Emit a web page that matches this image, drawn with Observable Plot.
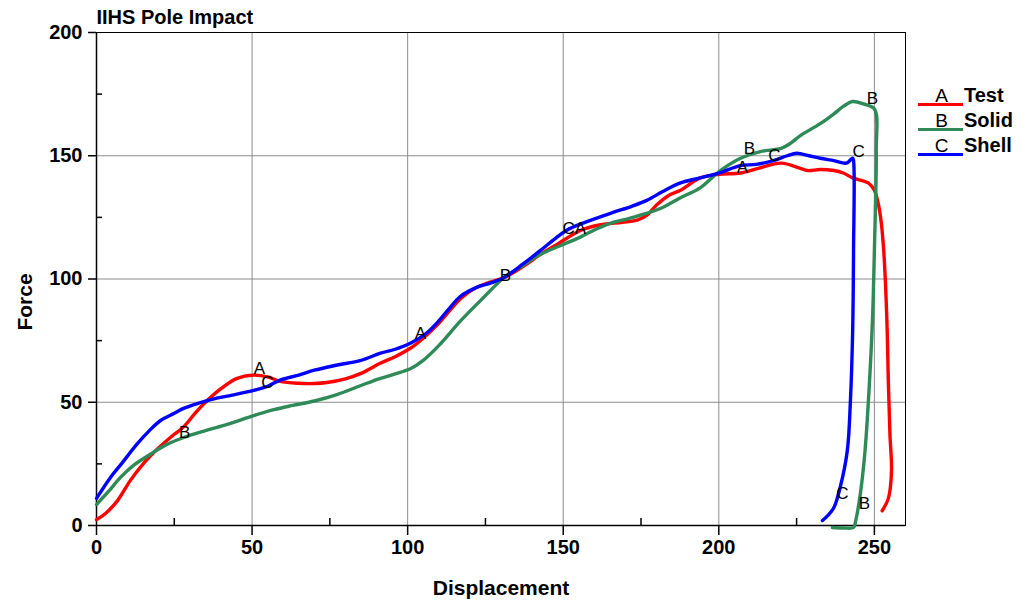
<!DOCTYPE html>
<html>
<head>
<meta charset="utf-8">
<script src="https://cdn.jsdelivr.net/npm/d3@7"></script>
<script src="https://cdn.jsdelivr.net/npm/@observablehq/plot@0.6"></script>
<style>
  html, body { margin: 0; padding: 0; background: #fff; }
  #wrap { position: relative; width: 1031px; height: 602px; font-family: "Liberation Sans", Arial, sans-serif; }
  .legline { position: absolute; height: 3px; width: 45px; }
  .legletter { position: absolute; font-size: 19px; width: 45px; text-align: center; line-height: 19px; }
  .legname { position: absolute; font-size: 20px; font-weight: bold; line-height: 20px; }
</style>
</head>
<body>
<div id="wrap"></div>
<script>
// ---- Data ----
const seriesNames = ["Test", "Solid", "Shell"];
const seriesLetters = ["A", "B", "C"];
const seriesColors = ["#ff0000", "#2e8b57", "#0000ff"];

const testPts = [
  [0,2.4],[3,5],[6.7,10],[10.9,18.3],[15,25],[20,31.5],[25,37],[28,40],[32,46],[35.6,50.7],
  [40,55.5],[45,59.6],[50.5,61],[55,60.3],[59,58.5],[65,57.7],[70,57.6],[74,58],[80,59.5],
  [85,61.7],[91,65.7],[96,68.5],[101,72],[105,76],[110,82],[117,92],[122,96.5],[126,98.5],
  [131,100.6],[137,105],[142.7,110],[148,114],[155.5,119.7],[162,122],[169,123],[174,124],
  [177,126],[180,130],[184,134],[187.7,136],[194,141],[200,142.5],[207,143],[213,145],
  [220,147],[226,145],[228.5,144],[232.6,144.4],[237,144],[240,143],[243,141],[248,139],
  [250,136],[251,132],[252,125],[253,111.5],[254,84],[254.5,57.6],[255,37],[255.5,22],
  [254.5,11],[252.5,6]
];
const solidPts = [
  [0,8.5],[4,14],[7.7,19.5],[12,24.5],[17.4,29],[22,32.5],[28,35.7],[35,38.5],[42,41],
  [50.5,44.6],[57,47],[63,48.7],[70,50.5],[77,53],[85,56.8],[91,59.6],[96,61.5],[101,63.7],
  [105,67],[110,73],[117,83],[124,92],[131,100.6],[137,105.5],[142.7,110],[149,113.5],
  [155.5,117],[161,120.5],[166,123],[171,124.5],[175,126],[181,128.5],[187.7,133],[194,137],
  [200.5,144],[207,149],[213.4,151.7],[220,153],[223,155],[226,158],[232.6,163],[237,167],
  [240,170],[243,172],[246.5,171],[250,169],[250.6,152],[250,111.5],[249.4,84],[248.4,57.6],
  [247,30.4],[245.5,13],[244,2],[243.3,-0.8],[240,-1],[236.5,-0.8]
];
const shellPts = [
  [0,11],[4.5,19.5],[8,25],[13,33],[17,38.5],[20.6,42.6],[25,45.5],[28,47.5],[35.6,50.7],
  [42,52.5],[50.5,54.8],[55,56.5],[59,59],[65,61],[70,63],[77,65],[85,67],[91,69.8],[96,71.5],
  [101,74],[106,78],[110,83],[113,87.5],[117,93],[122,96.5],[127,98.5],[131,100.6],[137,106],
  [142.7,111.6],[147,116],[151,119.7],[157,123],[166,127],[172,129.5],[177,132],[182,135.5],
  [187.7,139],[194,141],[200,143],[207,146],[212,146.5],[217.5,148],[222,150],[225,151],
  [229,150],[232.6,149],[237,148],[241,147],[243,149],[243.3,148],[243.3,111.5],[243,78],
  [242.3,50.7],[241.3,30.4],[239,15.4],[237,7.3],[235,4],[233.3,2]
];

// curve marker letters [x, y, letter]
const markerLabels = [
  [52.4,63.7,"A"],[104.1,77.9,"A"],[155.5,120.5,"A"],[207.6,145.2,"A"],
  [28.3,37.7,"B"],[131.4,101.4,"B"],[209.8,153,"B"],[249.4,173.2,"B"],[246.8,8.9,"B"],
  [54.9,58,"C"],[151.7,120.5,"C"],[217.9,150.1,"C"],[244.9,151.7,"C"],[239.7,13,"C"]
];

const xMajor = [0,50,100,150,200,250];
const xMinor = [25,75,125,175,225];
const yMajor = [0,50,100,150,200];
const yMinor = [25,75,125,175];
const titleText = "IIHS Pole Impact";
const xLabel = "Displacement";
const yLabel = "Force";

// ---- Build table ----
const rows = [];
[testPts, solidPts, shellPts].forEach((pts, i) => {
  pts.forEach(([x, y]) => rows.push({series: seriesNames[i], x, y}));
});
const labels = markerLabels.map(([x, y, t]) => ({x, y, t}));

const FONT = "Liberation Sans, Arial, sans-serif";

const chart = Plot.plot({
  width: 1031,
  height: 602,
  marginLeft: 96,
  marginRight: 126,
  marginTop: 32,
  marginBottom: 77,
  style: {fontFamily: FONT, background: "#fff", overflow: "visible"},
  x: {domain: [0, 260]},
  y: {domain: [0, 200]},
  color: {domain: seriesNames, range: seriesColors},
  marks: [
    Plot.gridX(xMajor, {stroke: "#8c8c8c", strokeOpacity: 1, strokeWidth: 1}),
    Plot.gridY(yMajor, {stroke: "#8c8c8c", strokeOpacity: 1, strokeWidth: 1}),
    Plot.frame({stroke: "#000", strokeWidth: 1}),
    Plot.ruleX([0], {stroke: "#000", strokeWidth: 1.5}),
    Plot.ruleY([0], {stroke: "#000", strokeWidth: 1.5}),
    Plot.axisX({ticks: xMajor, tickSize: 10, tickPadding: 4, fontSize: 20, fontWeight: "bold", label: null, stroke: "#000", strokeWidth: 1.5, fill: "#000"}),
    Plot.axisX({ticks: xMinor, tickSize: -7, text: null, label: null, stroke: "#000", strokeWidth: 1.5}),
    Plot.axisY({ticks: yMajor, tickSize: 8, tickPadding: 6, fontSize: 20, fontWeight: "bold", label: null, stroke: "#000", strokeWidth: 1.5, fill: "#000"}),
    Plot.axisY({ticks: yMinor, tickSize: -6, text: null, label: null, stroke: "#000", strokeWidth: 1.5}),
    Plot.line(rows, {x: "x", y: "y", z: "series", stroke: "series", strokeWidth: 3.4, curve: "catmull-rom"}),
    Plot.text(labels, {x: "x", y: "y", text: "t", fontSize: 17, fill: "#000"}),
    Plot.text([titleText], {frameAnchor: "top-left", dy: -9, textAnchor: "start", lineAnchor: "bottom", fontSize: 20, fontWeight: "bold", fill: "#000"}),
    Plot.text([xLabel], {frameAnchor: "bottom", dy: 63, textAnchor: "middle", lineAnchor: "middle", fontSize: 21, fontWeight: "bold", fill: "#000"}),
    Plot.text([yLabel], {frameAnchor: "left", dx: -71, dy: 23, textAnchor: "middle", lineAnchor: "middle", rotate: -90, fontSize: 21, fontWeight: "bold", fill: "#000"})
  ]
});

const wrap = document.getElementById("wrap");
wrap.appendChild(chart);

// legend
seriesNames.forEach((name, i) => {
  const lineY = 104 + i * 25;
  const line = document.createElement("div");
  line.className = "legline";
  line.style.left = "918px";
  line.style.top = (lineY - 1.5) + "px";
  line.style.background = seriesColors[i];
  wrap.appendChild(line);
  const letter = document.createElement("div");
  letter.className = "legletter";
  letter.style.left = "919px";
  letter.style.top = (lineY - 18) + "px";
  letter.textContent = seriesLetters[i];
  wrap.appendChild(letter);
  const nm = document.createElement("div");
  nm.className = "legname";
  nm.style.left = "964px";
  nm.style.top = (lineY - 19) + "px";
  nm.textContent = name;
  wrap.appendChild(nm);
});
</script>
</body>
</html>
